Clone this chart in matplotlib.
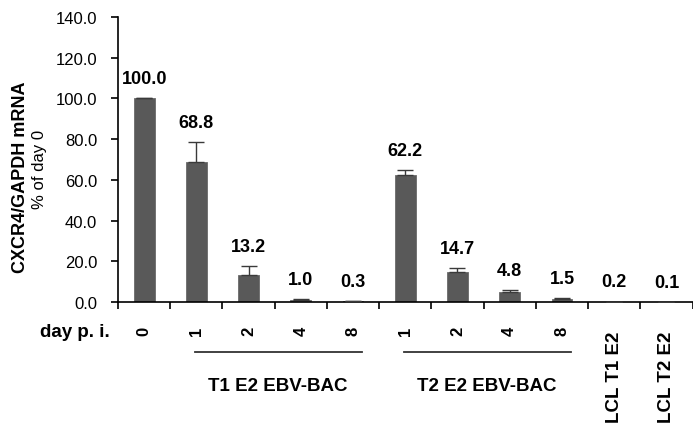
import numpy as np
import matplotlib
matplotlib.use("Agg")
import matplotlib.pyplot as plt
import matplotlib.transforms as mtransforms

plt.rcParams['font.family'] = ['Liberation Sans', 'DejaVu Sans']

# data
day_labels = ['0', '1', '2', '4', '8', '1', '2', '4', '8', '', '']
lcl_labels = ['LCL T1 E2', 'LCL T2 E2']
values = [100.0, 68.8, 13.2, 1.0, 0.3, 62.2, 14.7, 4.8, 1.5, 0.2, 0.1]
err_up = [0.0, 9.7, 4.4, 0.3, 0.0, 2.5, 2.0, 1.0, 0.4, 0.0, 0.0]
groups = ['T1 E2 EBV-BAC', 'T2 E2 EBV-BAC']
group_span = [(1, 4), (5, 8)]

fig = plt.figure(figsize=(6.93, 4.27), dpi=100)
ax = fig.add_axes([0.1703, 0.2904, 0.829, 0.668])

x = np.arange(len(values))
ax.bar(x, values, width=0.4, color='#595959', edgecolor='#6a6a6a', linewidth=0.6, zorder=2)
ax.errorbar(x, values, yerr=[np.zeros(len(values)), err_up], fmt='none',
            ecolor='#3a3a3a', elinewidth=1.0, capsize=5.5, capthick=1.0, zorder=3)

# value labels above bars
for xi, v, e in zip(x, values, err_up):
    ax.text(xi, v + e + 5.5, '%.1f' % v, ha='center', va='bottom',
            fontsize=13, fontweight='bold')

ax.set_xlim(-0.5, len(values) - 0.5)
ax.set_ylim(0, 140)
ax.set_yticks(np.arange(0, 141, 20))
ax.set_yticklabels(['%.1f' % t for t in np.arange(0, 141, 20)], fontsize=12)

ax.set_xticks(x)
ax.set_xticklabels(day_labels, rotation=90, fontsize=12, fontweight='bold')
ax.set_xticks(np.arange(-0.5, len(values), 1), minor=True)
ax.tick_params(axis='x', which='major', length=0, pad=17)
ax.tick_params(axis='x', which='minor', direction='out', length=5, width=1.2)
ax.tick_params(axis='y', direction='out', length=5, width=1.2, pad=10)

for s in ['top', 'right']:
    ax.spines[s].set_visible(False)
for s in ['left', 'bottom']:
    ax.spines[s].set_linewidth(1.2)

# y label, two lines
ax.text(-0.170, 0.44, 'CXCR4/GAPDH mRNA', transform=ax.transAxes, rotation=90,
        ha='center', va='center', fontsize=13, fontweight='bold')
ax.text(-0.136, 0.47, '% of day 0', transform=ax.transAxes, rotation=90,
        ha='center', va='center', fontsize=12)

# x row label
ax.text(-0.014, -0.105, 'day p. i.', transform=ax.transAxes, ha='right',
        va='center', fontsize=13.5, fontweight='bold')

trans = mtransforms.blended_transform_factory(ax.transData, ax.transAxes)

# LCL labels
for xi, lab in zip(x[-2:], lcl_labels):
    ax.text(xi, -0.1, lab, transform=trans, rotation=90, ha='center',
            va='top', fontsize=13.5, fontweight='bold')

# group underlines and names
for (a, b), name in zip(group_span, groups):
    ax.plot([a - 0.02, b + 0.18], [-0.175, -0.175], transform=trans,
            color='#333333', lw=1.3, clip_on=False)
    ax.text((a + b) / 2 + 0.06, -0.291, name, transform=trans, ha='center',
            va='center', fontsize=13.5, fontweight='bold')

fig.savefig('out.png', dpi=100)
